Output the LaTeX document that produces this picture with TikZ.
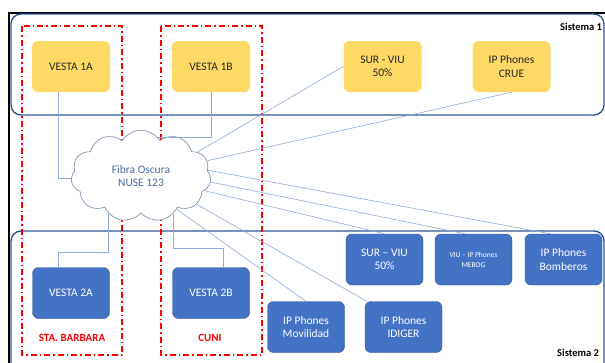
\documentclass[tikz,border=0pt]{standalone}
\usepackage{fontspec}
\setmainfont{Carlito}
\usetikzlibrary{shapes.symbols,calc}
\definecolor{ygold}{HTML}{FFD966}
\definecolor{oblue}{HTML}{4472C4}
\definecolor{oblueline}{HTML}{2F528F}
\definecolor{frameblue}{HTML}{2F5597}
\definecolor{linkblue}{HTML}{8FAADC}
\definecolor{cloudline}{HTML}{8497B0}
\definecolor{cloudtext}{HTML}{4F6B9A}
\begin{document}
\begin{tikzpicture}[x=1pt,y=-1pt,
  ybox/.style={fill=ygold, rounded corners=6pt, minimum width=78pt, minimum height=51pt,
    inner sep=1pt, align=center, text=black!85, font=\fontsize{11.5}{13.5}\selectfont},
  bbox/.style={fill=oblue, draw=oblueline, line width=0.4pt, rounded corners=6pt,
    minimum width=77pt, minimum height=51pt, inner sep=1pt, align=center, text=white,
    font=\fontsize{11.5}{13.5}\selectfont},
  sysframe/.style={draw=frameblue, line width=1.4pt, rounded corners=10pt},
  site/.style={draw=red, line width=1.3pt, dash pattern=on 6pt off 3pt on 1.5pt off 3pt},
  sitelabel/.style={text=red, font=\bfseries\fontsize{11}{13}\selectfont},
  syslabel/.style={anchor=west, text=black, font=\bfseries\fontsize{10.5}{12}\selectfont, inner sep=0pt},
  link/.style={draw=linkblue, line width=0.6pt},
  cloudnode/.style={cloud, cloud puffs=11, cloud puff arc=115, draw=cloudline, line width=0.7pt,
    fill=white, minimum width=140pt, minimum height=86pt, inner sep=0pt, align=center,
    text=cloudtext, font=\fontsize{11.5}{13.5}\selectfont}
]
\useasboundingbox (0,0) rectangle (605,362);
% outer frame
\draw[black, line width=1.6pt] (9,372) -- (9,13) -- (620,13);
% system frames
\draw[sysframe] (11,14) rectangle (604,115);
\draw[sysframe] (11,231) rectangle (604,380);
\node[syslabel] (sis1) at (560,27) {Sistema 1};
\node[syslabel] (sis2) at (557,353) {Sistema 2};
% site boxes
\draw[site] (22,26) rectangle (122,355);
\draw[site] (161,26) rectangle (262,355);
\node[sitelabel] (sta) at (72,338) {STA. BARBARA};
\node[sitelabel] (cuni) at (210,338) {CUNI};
% boxes
\node[ybox] (v1a) at (71,66.5) {VESTA 1A};
\node[ybox] (v1b) at (211,66.5) {VESTA 1B};
\node[ybox] (s1) at (382.5,66.5) {SUR - VIU\\50\%};
\node[ybox] (crue) at (511.5,66.5) {IP Phones\\CRUE};
\node[bbox] (v2a) at (71,293) {VESTA 2A};
\node[bbox] (v2b) at (211,293) {VESTA 2B};
\node[bbox] (s2) at (384.5,259.5) {SUR – VIU\\50\%};
\node[bbox, font=\fontsize{7.5}{10}\selectfont] (mebog) at (473.5,259.5) {VIU – IP Phones\\MEBOG};
\node[bbox] (bomb) at (563.5,259.5) {IP Phones\\Bomberos};
\node[bbox] (movil) at (306,327) {IP Phones\\Movilidad};
\node[bbox] (idiger) at (403.5,327) {IP Phones\\IDIGER};
% cloud
\node[cloudnode] (cloud) at (141,176) {Fibra Oscura\\NUSE 123};
% connectors
\draw[link] ([xshift=-13pt]v1a.south) |- (cloud.182);
\draw[link] (v1b.south) |- (cloud.66);
\draw[link] ([xshift=-13pt]v2a.north) -- ++(0,-15) -| (cloud.-132);
\draw[link] ([xshift=12pt]v2b.north) -- ++(0,-19) -| (cloud.-50);
\draw[link] (cloud.23) -- (s1.west);
\draw[link] (cloud.13) -- (crue.south);
\draw[link] (cloud.5) -- ($(bomb.north west)!0.33!(bomb.north east)$);
\draw[link] (cloud.-5) -- ($(mebog.north west)!0.39!(mebog.north east)$);
\draw[link] (cloud.-13) -- (s2.north);
\draw[link] (cloud.-27) -- ([xshift=2pt]idiger.north west);
\draw[link] (cloud.-43) -- (movil.north);
\end{tikzpicture}
\end{document}
